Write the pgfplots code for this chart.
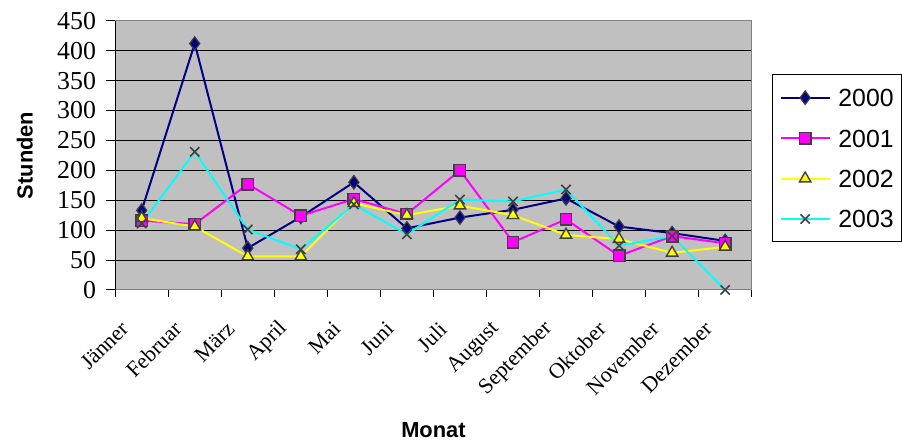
\documentclass[border=0pt]{standalone}
\usepackage{fontspec}
\setmainfont{Liberation Serif}
\newfontfamily\arial{Liberation Sans}
\usepackage{pgfplots}
\pgfplotsset{compat=1.18}
\definecolor{plotbg}{HTML}{C0C0C0}
\definecolor{navy}{HTML}{000080}
\definecolor{mk}{HTML}{404040}
\definecolor{xmag}{HTML}{FF00FF}
\definecolor{xyel}{HTML}{FFFF00}
\definecolor{xcya}{HTML}{00FFFF}
\begin{document}
\begin{tikzpicture}
\path (-58pt,-77pt) rectangle (393pt,146pt);
\begin{axis}[
  at={(0,0)}, anchor=south west,
  scale only axis, width=320.5pt, height=135.5pt,
  xmin=-0.5, xmax=11.5, ymin=0, ymax=450,
  ytick={0,50,...,450},
  xtick={0,...,11},
  xticklabels={Jänner,Februar,März,April,Mai,Juni,Juli,August,September,Oktober,November,Dezember},
  minor xtick={-0.5,0.5,...,11.5},
  xtick pos=left, ytick pos=left,
  ymajorgrids, major grid style={black, line width=0.5pt},
  axis background/.style={fill=plotbg},
  axis line style={draw=gray, line width=0.5pt},
  tick align=outside,
  major x tick style={draw=none},
  minor x tick style={black, line width=0.5pt},
  y tick style={black, line width=0.5pt},
  minor tick length=3.5pt, major tick length=4.5pt,
  /pgf/number format/assume math mode=true,
  yticklabel style={font=\fontsize{13}{15}\selectfont, anchor=east, inner sep=0pt, xshift=-5pt},
  xticklabel style={font=\fontsize{11}{13}\selectfont, rotate=45, anchor=east, inner sep=0pt, xshift=-15.4pt, yshift=-3.4pt},
  xlabel={\arial\bfseries Monat}, ylabel={\arial\bfseries Stunden},
  xlabel style={font=\fontsize{11}{13}\selectfont, at={(axis description cs:0.5,0)}, anchor=center, yshift=-70.5pt},
  ylabel style={font=\fontsize{11}{13}\selectfont, at={(axis description cs:-0.142,0.5)}, anchor=center},
  clip=false,
  legend style={at={(1.0312,0.8007)}, anchor=north west, draw=black,
    font=\arial\fontsize{12.5}{14}\selectfont,
    inner xsep=4pt, inner ysep=7pt, row sep=11.35pt,
    nodes={inner sep=0pt, text height=9pt, text depth=0pt},
    /tikz/every odd column/.append style={column sep=4pt}},
  legend cell align=left,
  legend image code/.code={\draw[mark repeat=2,mark phase=2,#1] plot coordinates {(0pt,0pt) (12.25pt,0pt) (24.5pt,0pt)};},
]
\draw[black, line width=0.5pt] (rel axis cs:0,1) -- (rel axis cs:0,0);
\addplot[navy, line width=1pt, mark=diamond*, mark size=3.4pt, mark options={fill=navy, draw=mk, line width=0.6pt}]
  coordinates {(0,133) (1,412) (2,70) (3,122) (4,180) (5,103) (6,121) (7,134) (8,153) (9,106) (10,95) (11,82)};
\addlegendentry{2000}
\addplot[xmag, line width=1pt, mark=square*, mark size=2.9pt, mark options={fill=xmag, draw=mk, line width=0.7pt}]
  coordinates {(0,116) (1,110) (2,177) (3,124) (4,152) (5,127) (6,200) (7,80) (8,118) (9,57) (10,90) (11,78)};
\addlegendentry{2001}
\addplot[xyel, line width=1pt, mark=triangle*, mark size=3.3pt, mark options={fill=xyel, draw=mk, line width=0.7pt}]
  coordinates {(0,120) (1,106) (2,56) (3,56) (4,145) (5,125) (6,141) (7,125) (8,92) (9,85) (10,62) (11,72)};
\addlegendentry{2002}
\addplot[xcya, line width=1pt, mark=x, mark size=3.3pt, mark options={draw=mk, line width=0.8pt}]
  coordinates {(0,111) (1,231) (2,101) (3,68) (4,143) (5,93) (6,151) (7,148) (8,168) (9,74) (10,90) (11,0)};
\addlegendentry{2003}
\end{axis}
\end{tikzpicture}
\end{document}
